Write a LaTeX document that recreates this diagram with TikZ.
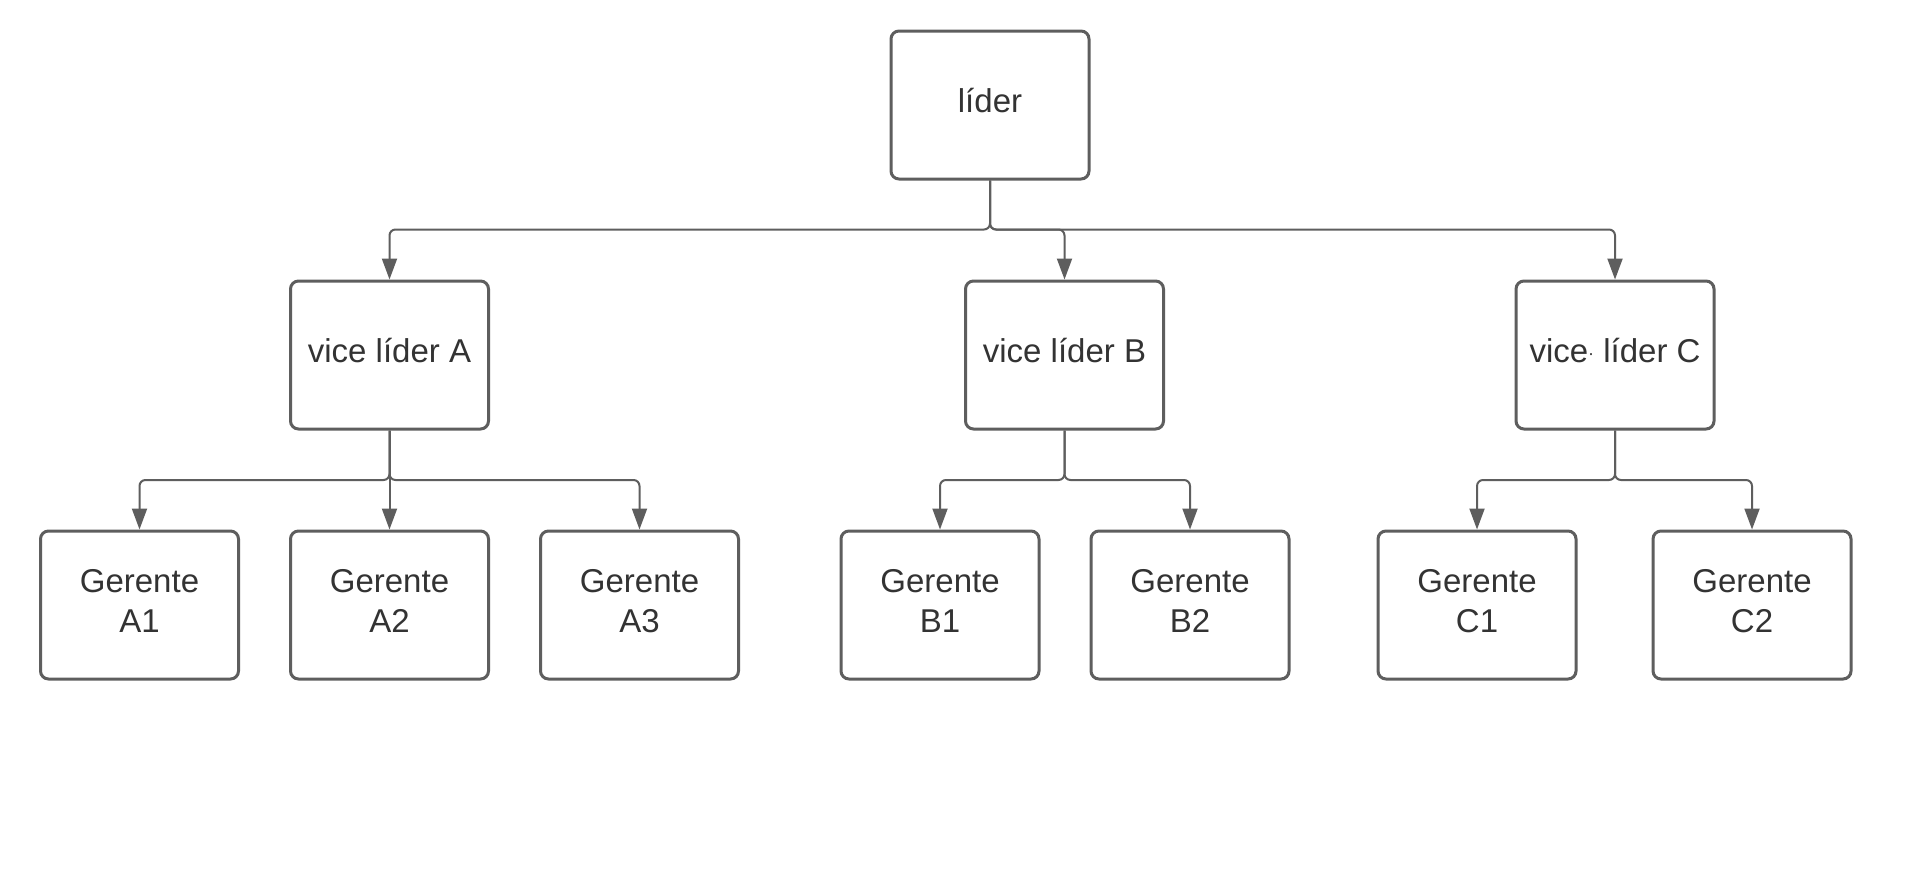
\documentclass[tikz,border=0pt]{standalone}
\usepackage{fontspec}
\setmainfont{Liberation Sans}
\usetikzlibrary{arrows.meta}
\definecolor{edgegray}{HTML}{5E5E5E}
\definecolor{txtgray}{HTML}{333333}
\tikzset{
  orgbox/.style={draw=edgegray, line width=1.5pt, rounded corners=4pt, fill=white,
    minimum width=99pt, minimum height=74pt, inner sep=2pt},
  boxtext/.style={align=center, text=txtgray, inner sep=0pt, yshift=2pt,
    font=\fontsize{16.5}{19.7}\selectfont},
  conn/.style={draw=edgegray, line width=1pt, rounded corners=3pt,
    -{Triangle[length=10.5pt,width=7.5pt]}}
}
\begin{document}
\begin{tikzpicture}[x=0.5pt,y=-0.5pt]
\useasboundingbox[fill=white] (0,0) rectangle (1914,884);
\coordinate (busTop) at (0,229.5);
\coordinate (busA) at (0,480);
% nodes
\node[orgbox, label={[boxtext]center:líder}] (lider) at (990,105) {};
\node[orgbox, label={[boxtext]center:vice líder A}] (va) at (389.5,355) {};
\node[orgbox, label={[boxtext]center:{vice{\raisebox{1.5pt}{\fontsize{9}{9}\selectfont·}} líder C}}] (vc) at (1615,355) {};
\node[orgbox, label={[boxtext]center:vice líder B}] (vb) at (1064.5,355) {};
\node[orgbox, label={[boxtext]center:{Gerente\\A1}}] (a1) at (139.5,605) {};
\node[orgbox, label={[boxtext]center:{Gerente\\A2}}] (a2) at (389.5,605) {};
\node[orgbox, label={[boxtext]center:{Gerente\\A3}}] (a3) at (639.5,605) {};
\node[orgbox, label={[boxtext]center:{Gerente\\B1}}] (b1) at (940,605) {};
\node[orgbox, label={[boxtext]center:{Gerente\\B2}}] (b2) at (1190,605) {};
\node[orgbox, label={[boxtext]center:{Gerente\\C1}}] (c1) at (1477,605) {};
\node[orgbox, label={[boxtext]center:{Gerente\\C2}}] (c2) at (1752,605) {};
% connectors
\foreach \c in {va,vb,vc}{
  \draw[conn] (lider.south) -- (lider.south |- busTop) -- (\c.north |- busTop) -- (\c.north);
}
\foreach \p/\c in {va/a1,va/a2,va/a3,vb/b1,vb/b2,vc/c1,vc/c2}{
  \draw[conn] (\p.south) -- (\p.south |- busA) -- (\c.north |- busA) -- (\c.north);
}
\end{tikzpicture}
\end{document}
